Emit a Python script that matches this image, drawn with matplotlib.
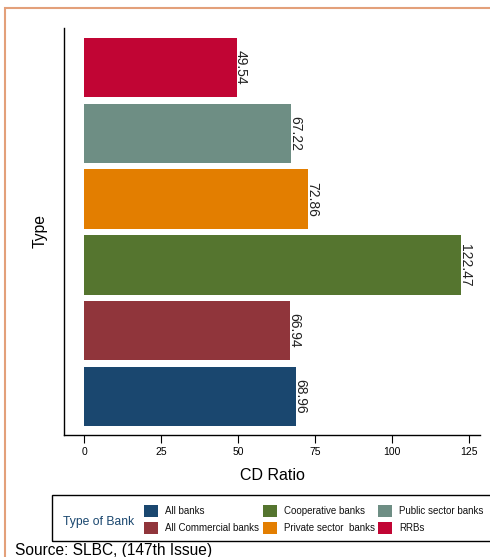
import matplotlib.pyplot as plt
from matplotlib.patches import Rectangle

plt.rcParams['font.family'] = ['Liberation Sans', 'DejaVu Sans']

# data, bottom bar first
bank_types = ['All banks', 'All Commercial banks', 'Cooperative banks',
              'Private sector  banks', 'Public sector banks', 'RRBs']
cd_ratio = [68.96, 66.94, 122.47, 72.86, 67.22, 49.54]
bar_colors = ['#1a476f', '#90353b', '#55752f', '#e37e00', '#6e8e84', '#c10534']
x_ticks = [0, 25, 50, 75, 100, 125]

W, H = 490, 557
fig = plt.figure(figsize=(W / 100, H / 100), dpi=100)

def px(x, y):
    # pixel position (from top-left) -> figure fraction
    return x / W, 1 - y / H

# outer frame of the graph region (cut off at right and bottom)
fig.patches.append(Rectangle(px(5, 620), 600 / W, 612 / H, transform=fig.transFigure,
                             fill=False, edgecolor='#e3a07a', linewidth=1.5, clip_on=False))

ax = fig.add_axes([64 / W, 1 - 435 / H, 416 / W, 407 / H])
ypos = list(range(len(cd_ratio)))
bars = ax.barh(ypos, cd_ratio, height=0.9, color=bar_colors)
for b, v in zip(bars, cd_ratio):
    ax.annotate(f'{v:.2f}', (v, b.get_y() + b.get_height() / 2), xytext=(-2.2, 0),
                textcoords='offset points', rotation=-90, ha='left', va='center',
                fontsize=10, color='#222222')

ax.set_xlim(-6.5, 128.6)
ax.set_ylim(-0.585, 5.6)
ax.set_xticks(x_ticks)
ax.set_xticklabels([str(t) for t in x_ticks], fontsize=7.5)
ax.set_yticks([])
ax.tick_params(axis='x', length=5.8, width=0.8, pad=3)
ax.spines['top'].set_visible(False)
ax.spines['right'].set_visible(False)
ax.spines['left'].set_linewidth(1)
ax.spines['bottom'].set_linewidth(1)
ax.set_xlabel('CD Ratio', fontsize=11.5, labelpad=8)
ax.set_ylabel('Type', fontsize=11.3, labelpad=12)

# legend box
fig.patches.append(Rectangle(px(52, 541), 500 / W, 46 / H, transform=fig.transFigure,
                             fill=False, edgecolor='black', linewidth=1, clip_on=False))
fig.text(*px(63, 522), 'Type of Bank', fontsize=8.7, color='#1a476f', va='center')
col_x = [144, 263, 378]
row_y = [505, 522]
for i, (lab, c) in enumerate(zip(bank_types, bar_colors)):
    cx, ry = col_x[i // 2], row_y[i % 2]
    fig.patches.append(Rectangle(px(cx, ry + 12), 14 / W, 12 / H,
                                 transform=fig.transFigure, facecolor=c, edgecolor='none'))
    fig.text(*px(cx + 21, ry + 6), lab, fontsize=7, va='center', color='#111111')

fig.text(*px(15, 555), 'Source: SLBC, (147th Issue)', fontsize=11.2, va='baseline')

fig.savefig('out.png', dpi=100)
